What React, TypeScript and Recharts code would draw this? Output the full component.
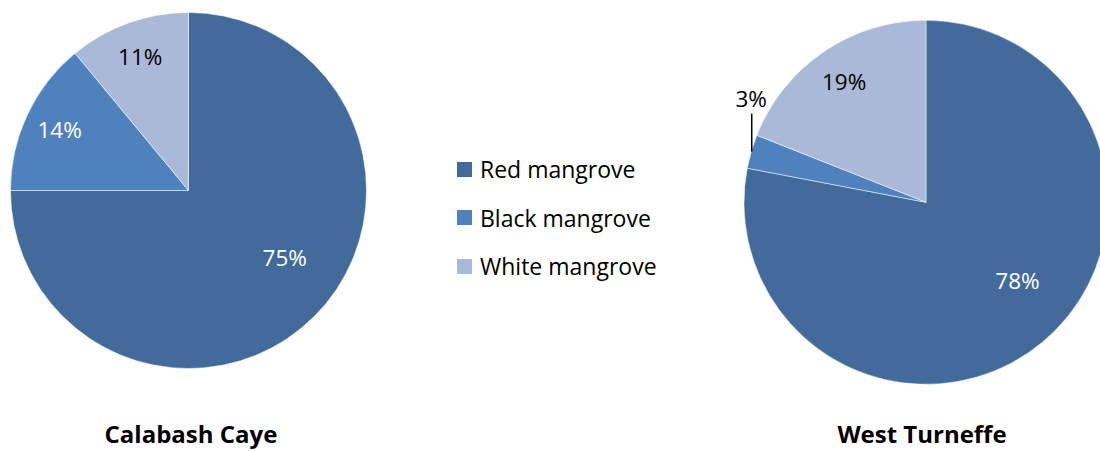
import React from 'react';
import { PieChart, Pie, Cell, Legend } from 'recharts';

const categories = ['Red mangrove', 'Black mangrove', 'White mangrove'];
const calabashValues = [75, 14, 11];
const westTurneffeValues = [78, 3, 19];
const chartTitles = ['Calabash Caye', 'West Turneffe'];

const colors = ['#426A9B', '#4F81BD', '#AAB9D7'];
const insideLabelColors = ['#ffffff', '#ffffff', '#000000'];
const FONT = '"Open Sans", "Liberation Sans", sans-serif';

const calabashData = categories.map((name, i) => ({ name, value: calabashValues[i] }));
const westData = categories.map((name, i) => ({ name, value: westTurneffeValues[i] }));

const RAD = Math.PI / 180;

const renderLabel = (props: any) => {
  const { cx, cy, midAngle, outerRadius, percent, index } = props;
  const text = `${Math.round(percent * 100)}%`;
  if (percent < 0.05) {
    const ex = cx + outerRadius * Math.cos(-midAngle * RAD);
    const ey = cy + outerRadius * Math.sin(-midAngle * RAD);
    return (
      <g>
        <line x1={ex + 0.5} y1={ey} x2={ex + 0.5} y2={ey - 38} stroke="#000" strokeWidth={1.5} />
        <text x={ex} y={ey - 53} fill="#000" textAnchor="middle" dominantBaseline="central"
          style={{ fontFamily: FONT, fontSize: 22.5 }}>{text}</text>
      </g>
    );
  }
  const big = percent > 0.5;
  const angle = big ? midAngle + 10 : midAngle;
  const f = big ? 0.66 : 0.8;
  const x = cx + outerRadius * f * Math.cos(-angle * RAD);
  const y = cy + outerRadius * f * Math.sin(-angle * RAD);
  return (
    <text x={x} y={y} fill={insideLabelColors[index]} textAnchor="middle" dominantBaseline="central"
      style={{ fontFamily: FONT, fontSize: 22.5 }}>{text}</text>
  );
};

const renderLegend = () => (
  <div style={{ fontFamily: FONT, fontSize: 23, color: '#000' }}>
    {categories.map((c, i) => (
      <div key={c} style={{ display: 'flex', alignItems: 'center', height: 48.5, whiteSpace: 'nowrap' }}>
        <span style={{ display: 'inline-block', width: 15, height: 15, background: colors[i], marginRight: 8 }} />
        <span>{c}</span>
      </div>
    ))}
  </div>
);

const titleStyle = (cx: number): React.CSSProperties => ({
  position: 'absolute',
  left: cx - 150,
  width: 300,
  top: 422,
  textAlign: 'center',
  fontFamily: FONT,
  fontWeight: 700,
  fontSize: 24,
  lineHeight: '24px',
  color: '#000',
});

export default function App() {
  return (
    <div style={{ position: 'absolute', left: 0, top: 0, width: 1100, height: 451, background: '#fff', overflow: 'hidden' }}>
      <PieChart width={1100} height={451} margin={{ top: 0, right: 0, bottom: 0, left: 0 }}>
        <Pie data={calabashData} dataKey="value" nameKey="name" cx={188.5} cy={190.5} outerRadius={178}
          startAngle={90} endAngle={-270} isAnimationActive={false} label={renderLabel} labelLine={false}
          stroke="#ffffff" strokeWidth={0.5}>
          {calabashData.map((d, i) => <Cell key={d.name} fill={colors[i]} />)}
        </Pie>
        <Pie data={westData} dataKey="value" nameKey="name" cx={926} cy={202.3} outerRadius={182}
          startAngle={90} endAngle={-270} isAnimationActive={false} label={renderLabel} labelLine={false}
          stroke="#ffffff" strokeWidth={0.5}>
          {westData.map((d, i) => <Cell key={d.name} fill={colors[i]} />)}
        </Pie>
        <Legend content={renderLegend}
          wrapperStyle={{ position: 'absolute', left: 457, top: 144.75, width: 'auto', height: 'auto', bottom: 'auto', right: 'auto' }} />
      </PieChart>
      <div style={titleStyle(191)}>{chartTitles[0]}</div>
      <div style={titleStyle(922)}>{chartTitles[1]}</div>
    </div>
  );
}
